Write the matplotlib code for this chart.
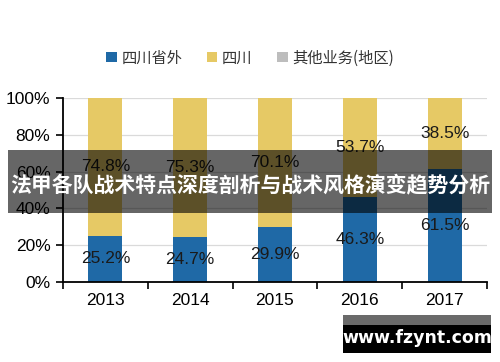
import numpy as np
import matplotlib.pyplot as plt
from matplotlib.patches import Rectangle

plt.rcParams['font.family'] = ['Liberation Sans', 'Noto Sans CJK SC', 'DejaVu Sans']

years = ['2013', '2014', '2015', '2016', '2017']
outside = [25.2, 24.7, 29.9, 46.3, 61.5]
sichuan = [74.8, 75.3, 70.1, 53.7, 38.5]
other = [0, 0, 0, 0, 0]
series_names = ['四川省外', '四川', '其他业务(地区)']
title = '法甲各队战术特点深度剖析与战术风格演变趋势分析'
watermark = 'www.fzynt.com'

c_blue = '#1f69a6'
c_yellow = '#e6c965'
c_grey = '#bdbdbd'

fig = plt.figure(figsize=(5, 3.62), dpi=100)
ax = fig.add_axes([0.126, 0.221, 0.848, 0.508])

x = np.arange(len(years))
w = 0.4
b1 = ax.bar(x, outside, w, color=c_blue, label=series_names[0], zorder=2)
b2 = ax.bar(x, sichuan, w, bottom=outside, color=c_yellow, label=series_names[1], zorder=2)
b3 = ax.bar(x, other, w, bottom=np.add(outside, sichuan), color=c_grey, label=series_names[2], zorder=2)

ax.bar_label(b1, labels=[f'{v:.1f}%' for v in outside], label_type='center', fontsize=12.5, color='#1a1a1a')
ax.bar_label(b2, labels=[f'{v:.1f}%' for v in sichuan], label_type='center', fontsize=12.5, color='#1a1a1a')

ax.set_xlim(-0.5, len(years) - 0.5)
ax.set_ylim(0, 100)
ax.set_yticks(range(0, 101, 20))
ax.set_yticklabels([f'{v}%' for v in range(0, 101, 20)], fontsize=12.5)
ax.set_xticks(x)
ax.set_xticklabels(years, fontsize=12.5)
ax.tick_params(axis='x', length=0, pad=8)
ax.set_xticks(np.arange(-0.5, len(years)), minor=True)
ax.tick_params(axis='x', which='minor', length=5, width=1.2, direction='out')
ax.tick_params(axis='y', length=5, width=1.2, direction='out', pad=4)
ax.grid(axis='y', color='#dadada', linewidth=0.9, zorder=0)
for s in ['top', 'right']:
    ax.spines[s].set_visible(False)
for s in ['left', 'bottom']:
    ax.spines[s].set_linewidth(1.3)
    ax.spines[s].set_color('black')

leg = fig.legend(handles=[b1, b2, b3], loc='center', bbox_to_anchor=(0.5, 0.84), ncol=3,
                 frameon=False, handlelength=0.7, handleheight=0.7,
                 handletextpad=0.3, columnspacing=1.6,
                 prop={'family': ['Noto Sans CJK SC', 'DejaVu Sans'], 'size': 11})
for t in leg.get_texts():
    t.set_color('#333333')

# banner overlay
fig.patches.append(Rectangle((0.016, 0.412), 0.968, 0.174, transform=fig.transFigure,
                             facecolor='black', alpha=0.6, zorder=5))
fig.text(0.5, 0.488, title, ha='center', va='center', color='white', fontsize=15,
         fontweight='bold', family=['Noto Sans CJK SC', 'DejaVu Sans'], zorder=6)

# watermark
fig.patches.append(Rectangle((0.686, 0.102), 0.296, 0.028, transform=fig.transFigure,
                             facecolor='#6a6a6a', zorder=5))
fig.patches.append(Rectangle((0.686, 0.025), 0.296, 0.077, transform=fig.transFigure,
                             facecolor='black', zorder=5))
fig.text(0.834, 0.066, watermark, ha='center', va='center', color='white', fontsize=12.5,
         fontweight='bold', family=['DejaVu Sans'], zorder=6)

fig.savefig('out.png', dpi=100)
